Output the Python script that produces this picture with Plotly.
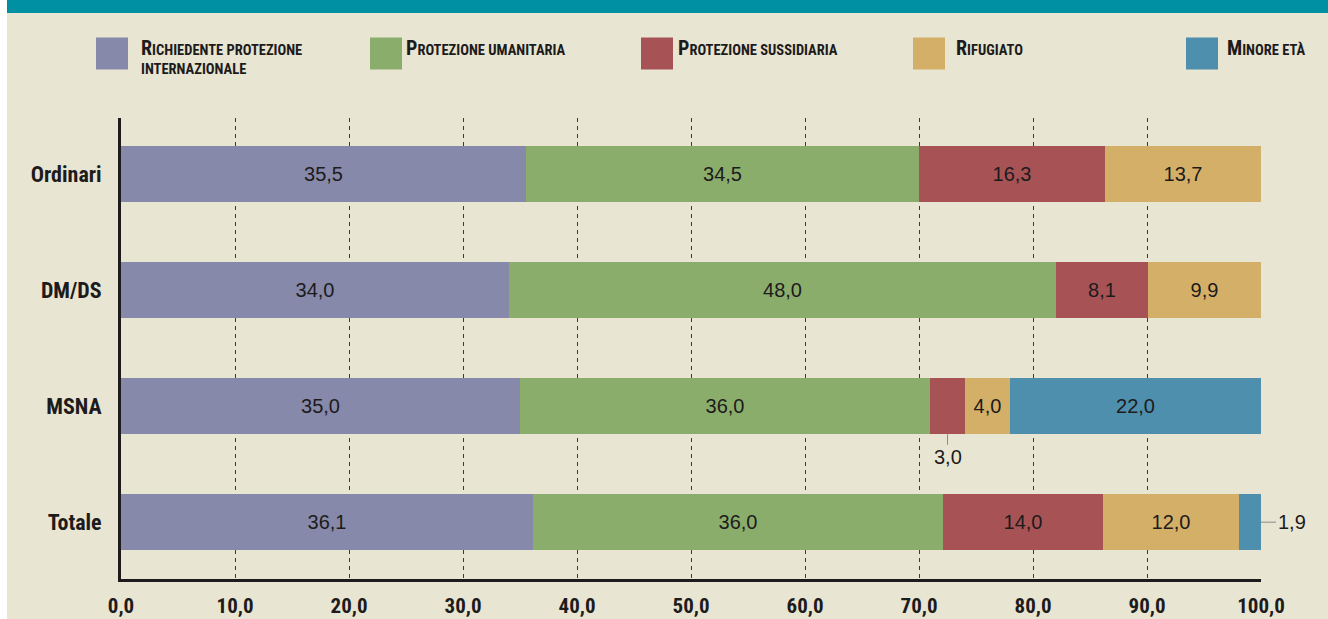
import plotly.graph_objects as go

# Categories (rows) and the five stacked series, in percent
categorie = ["Ordinari", "DM/DS", "MSNA", "Totale"]
richiedente = [35.5, 34.0, 35.0, 36.1]
umanitaria = [34.5, 48.0, 36.0, 36.0]
sussidiaria = [16.3, 8.1, 3.0, 14.0]
rifugiato = [13.7, 9.9, 4.0, 12.0]
minore = [0.0, 0.0, 22.0, 1.9]

serie_nomi = [
    "Richiedente protezione internazionale",
    "Protezione umanitaria",
    "Protezione sussidiaria",
    "Rifugiato",
    "Minore età",
]
serie_valori = [richiedente, umanitaria, sussidiaria, rifugiato, minore]
colori = ["#8689A9", "#8BAD6C", "#A75356", "#D4AF67", "#4F8FAE"]

tick_vals = [0, 10, 20, 30, 40, 50, 60, 70, 80, 90, 100]

# Legend labels: first line / second line
legenda_righe = [
    ["Richiedente protezione", "internazionale"],
    ["Protezione umanitaria"],
    ["Protezione sussidiaria"],
    ["Rifugiato"],
    ["Minore età"],
]

W, H = 1328, 619
ML, MR, MT, MB = 121, 67, 118, 40
PW, PH = W - ML - MR, H - MT - MB

COND = "Liberation Sans Narrow, Arial Narrow, Roboto Condensed, sans-serif"
PLAIN = "Liberation Sans, Arial, Helvetica, sans-serif"
BG = "#E8E5D3"
INK = "#1d1b1b"


def px_x(px):
    return (px - ML) / PW


def px_y(py):
    return 1 - (py - MT) / PH


def fmt(v):
    return f"{v:.1f}".replace(".", ",")


# Small segments get an external label with a leader line: (series, row) -> (ax, ay)
callout = {(2, 2): (0, 23), (4, 3): (15, 0)}
BAR_W = 0.483

fig = go.Figure()
base = [0.0] * len(categorie)
annotations = []
for s, (nome, vals, col) in enumerate(zip(serie_nomi, serie_valori, colori)):
    testi = []
    for r, v in enumerate(vals):
        if v <= 0 or (s, r) in callout:
            testi.append("")
        else:
            testi.append(fmt(v))
        if (s, r) in callout and v > 0:
            ax, ay = callout[(s, r)]
            if ay:
                xp, yp = base[r] + v / 2, r + BAR_W / 2
            else:
                xp, yp = base[r] + v, r
            annotations.append(dict(
                x=xp, y=yp, xref="x", yref="y", text=fmt(v),
                showarrow=True, arrowhead=0, arrowwidth=1, arrowcolor="#8a8a8a",
                ax=ax, ay=ay, standoff=0, startstandoff=0,
                xanchor="left" if ax else "center",
                font=dict(family=PLAIN, size=20, color=INK),
            ))
    fig.add_trace(go.Bar(
        y=list(range(len(categorie))), x=vals, base=base[:], orientation="h",
        name=nome, marker=dict(color=col, line=dict(width=0)),
        width=BAR_W, text=testi, textposition="inside",
        insidetextanchor="middle", textangle=0,
        textfont=dict(family=PLAIN, size=20, color=INK),
        showlegend=False, hoverinfo="skip",
    ))
    base = [b + v for b, v in zip(base, vals)]

# Legend built from swatches and small-caps labels
leg_sq = [96, 370, 641, 913, 1186]
leg_tx = [139, 404, 676, 954, 1225]
shapes = []
for i, righe in enumerate(legenda_righe):
    shapes.append(dict(
        type="rect", xref="paper", yref="paper",
        x0=px_x(leg_sq[i]), x1=px_x(leg_sq[i] + 32),
        y0=px_y(69.5), y1=px_y(37.5),
        fillcolor=colori[i], line=dict(width=0), layer="above",
    ))
    linee = []
    for j, riga in enumerate(righe):
        up = riga.upper()
        if j == 0:
            linee.append(f"<span style='font-size:20px'>{up[0]}</span>{up[1:]}")
        else:
            linee.append(up)
    annotations.append(dict(
        x=px_x(leg_tx[i]), y=px_y(34), xref="paper", yref="paper",
        xanchor="left", yanchor="top", align="left", showarrow=False,
        text="<b>" + "<br>".join(linee) + "</b>",
        font=dict(family=COND, size=14.5, color=INK),
    ))

# Top band and left border strip
shapes.append(dict(type="rect", xref="paper", yref="paper",
                   x0=px_x(0), x1=px_x(W), y0=px_y(13), y1=px_y(0),
                   fillcolor="#0090A3", line=dict(width=0), layer="below"))
shapes.append(dict(type="rect", xref="paper", yref="paper",
                   x0=px_x(0), x1=px_x(7), y0=px_y(H), y1=px_y(0),
                   fillcolor="#FFFFFF", line=dict(width=0), layer="below"))

fig.update_layout(
    width=W, height=H, autosize=False,
    margin=dict(l=ML, r=MR, t=MT, b=MB, pad=0),
    paper_bgcolor=BG, plot_bgcolor=BG,
    separators=",.",
    barmode="overlay", bargap=0,
    shapes=shapes, annotations=annotations,
    xaxis=dict(
        range=[0, 100], tickvals=tick_vals,
        ticktext=[f"<b>{fmt(t)}</b>" for t in tick_vals],
        showgrid=True, gridcolor="#3a3a3a", gridwidth=1, griddash="4px,4px",
        zeroline=False, showline=True, linecolor=INK, linewidth=3,
        ticks="", ticklabelstandoff=6, automargin=False,
        tickfont=dict(family=COND, size=21, color=INK),
        fixedrange=True,
    ),
    yaxis=dict(
        range=[3.49, -0.485], tickvals=list(range(len(categorie))),
        ticktext=[f"<b>{c}</b>" for c in categorie],
        showgrid=False, zeroline=False, showline=True, linecolor=INK,
        linewidth=3, ticks="", ticklabelstandoff=12, automargin=False,
        tickfont=dict(family=COND, size=22, color=INK),
        fixedrange=True,
    ),
)

fig.write_html("out.html")
